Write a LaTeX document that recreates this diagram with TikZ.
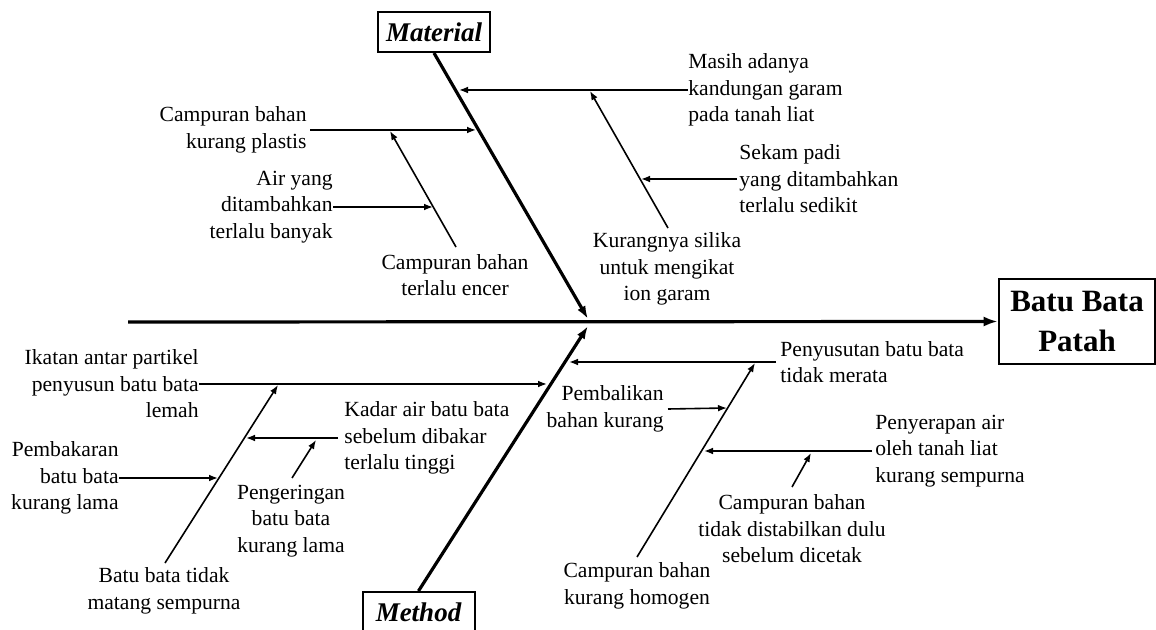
\documentclass[tikz,border=0pt]{standalone}
\usepackage{fontspec}
\setmainfont{Liberation Serif}
\usetikzlibrary{arrows.meta}
\begin{document}
\begin{tikzpicture}[x=0.5pt,y=-0.5pt,
  lbl/.style={inner sep=0pt,font=\fontsize{10.8}{13.3}\selectfont},
  catbox/.style={draw,line width=1pt,inner sep=0pt,minimum width=56pt,minimum height=20pt,font=\fontsize{13.5}{16}\selectfont\bfseries\itshape},
  effbox/.style={draw,line width=1.3pt,inner sep=0pt,minimum width=78pt,minimum height=42.5pt,align=center,font=\fontsize{15.5}{20}\selectfont\bfseries},
  sub/.style={line width=0.8pt,-{Latex[length=4.5pt,width=3.4pt]}},
  bone/.style={line width=1.6pt,-{Latex[length=6.5pt,width=4.5pt]}}
]
\useasboundingbox (0,0) rectangle (1156,630);
\clip (0,0) rectangle (1156,630);

% category and effect boxes
\node[catbox] (mat) at (434,32) {Material};
\node[catbox] (met) at (418.5,612) {Method};
\node[effbox] (eff) at (1077,321.5) {Batu Bata\\Patah};

% main spine
\coordinate (sp0) at (128,322);
\draw[line width=1.6pt,-{Latex[length=7pt,width=5pt]}] (sp0) -- (eff.west);

% bones
\coordinate (matend) at (588,319);
\coordinate (metend) at (588,326);
\draw[bone] (mat.south) -- (matend);
\draw[bone] (met.north) -- (metend);

% Material causes
\node[lbl,anchor=east,align=right] (mat1) at (307,130) {Campuran bahan\\kurang plastis};
\node[lbl,anchor=east,align=right] (mat2) at (333,207) {Air yang\\ditambahkan\\terlalu banyak};
\node[lbl,align=center] (mat3) at (455,275) {Campuran bahan\\terlalu encer};
\node[lbl,anchor=west,align=left] (mat4) at (688,90) {Masih adanya\\kandungan garam\\pada tanah liat};
\node[lbl,align=center] (mat5) at (667,269) {Kurangnya silika\\untuk mengikat\\ion garam};
\node[lbl,anchor=west,align=left] (mat6) at (739,179) {Sekam padi\\yang ditambahkan\\terlalu sedikit};

\coordinate (ta1) at (459,90);
\coordinate (ta2) at (476,130);
\coordinate (sa3) at (456,247);
\coordinate (ta3) at (390,131);
\coordinate (ta4) at (433,207);
\coordinate (sa5) at (668,228);
\coordinate (ta5) at (590,91);
\coordinate (ta6) at (641,179);

\draw[sub] (mat4.west) -- (ta1);
\draw[sub] ([xshift=1.5pt]mat1.east) -- (ta2);
\draw[sub] (sa3) -- (ta3);
\draw[sub] (mat2.east) -- (ta4);
\draw[sub] (sa5) -- (ta5);
\draw[sub] ([xshift=-1pt]mat6.west) -- (ta6);

% Method causes
\node[lbl,anchor=east,align=right] (met1) at (199,384) {Ikatan antar partikel\\penyusun batu bata\\lemah};
\node[lbl,align=center] (met2) at (164,591) {Batu bata tidak\\matang sempurna};
\node[lbl,anchor=east,align=right] (met3) at (119,478) {Pembakaran\\batu bata\\kurang lama};
\node[lbl,anchor=west,align=left] (met4) at (344,438) {Kadar air batu bata\\sebelum dibakar\\terlalu tinggi};
\node[lbl,align=center] (met5) at (291,521) {Pengeringan\\batu bata\\kurang lama};
\node[lbl,anchor=west,align=left] (met6) at (780,362) {Penyusutan batu bata\\tidak merata};
\node[lbl,align=center] (met7) at (637,586) {Campuran bahan\\kurang homogen};
\node[lbl,anchor=east,align=right] (met8) at (664,409) {Pembalikan\\bahan kurang};
\node[lbl,anchor=west,align=left] (met9) at (875,451) {Penyerapan air\\oleh tanah liat\\kurang sempurna};
\node[lbl,align=center] (met10) at (792,529) {Campuran bahan\\tidak distabilkan dulu\\sebelum dicetak};

\coordinate (tb1) at (547,384);
\coordinate (sb2) at (165,563);
\coordinate (tb2) at (278,385);
\coordinate (tb3) at (218,478);
\coordinate (tb4) at (246,438);
\coordinate (sb5) at (292,478);
\coordinate (tb5) at (316,440);
\coordinate (tb6) at (569,362);
\coordinate (sb7) at (637,557);
\coordinate (tb7) at (755,363);
\coordinate (tb8) at (727,408);
\coordinate (tb9) at (704,451);
\coordinate (sb10) at (792,487);
\coordinate (tb10) at (811,453);

\draw[sub] (met1.east) -- (tb1);
\draw[sub] (sb2) -- (tb2);
\draw[sub] (met3.east) -- (tb3);
\draw[sub] ([xshift=-3pt]met4.west) -- (tb4);
\draw[sub] (sb5) -- (tb5);
\draw[sub] ([xshift=-2pt]met6.west) -- (tb6);
\draw[sub] (sb7) -- (tb7);
\draw[sub] ([xshift=2pt]met8.east) -- (tb8);
\draw[sub] ([xshift=-1.5pt]met9.west) -- (tb9);
\draw[sub] (sb10) -- (tb10);
\end{tikzpicture}
\end{document}
